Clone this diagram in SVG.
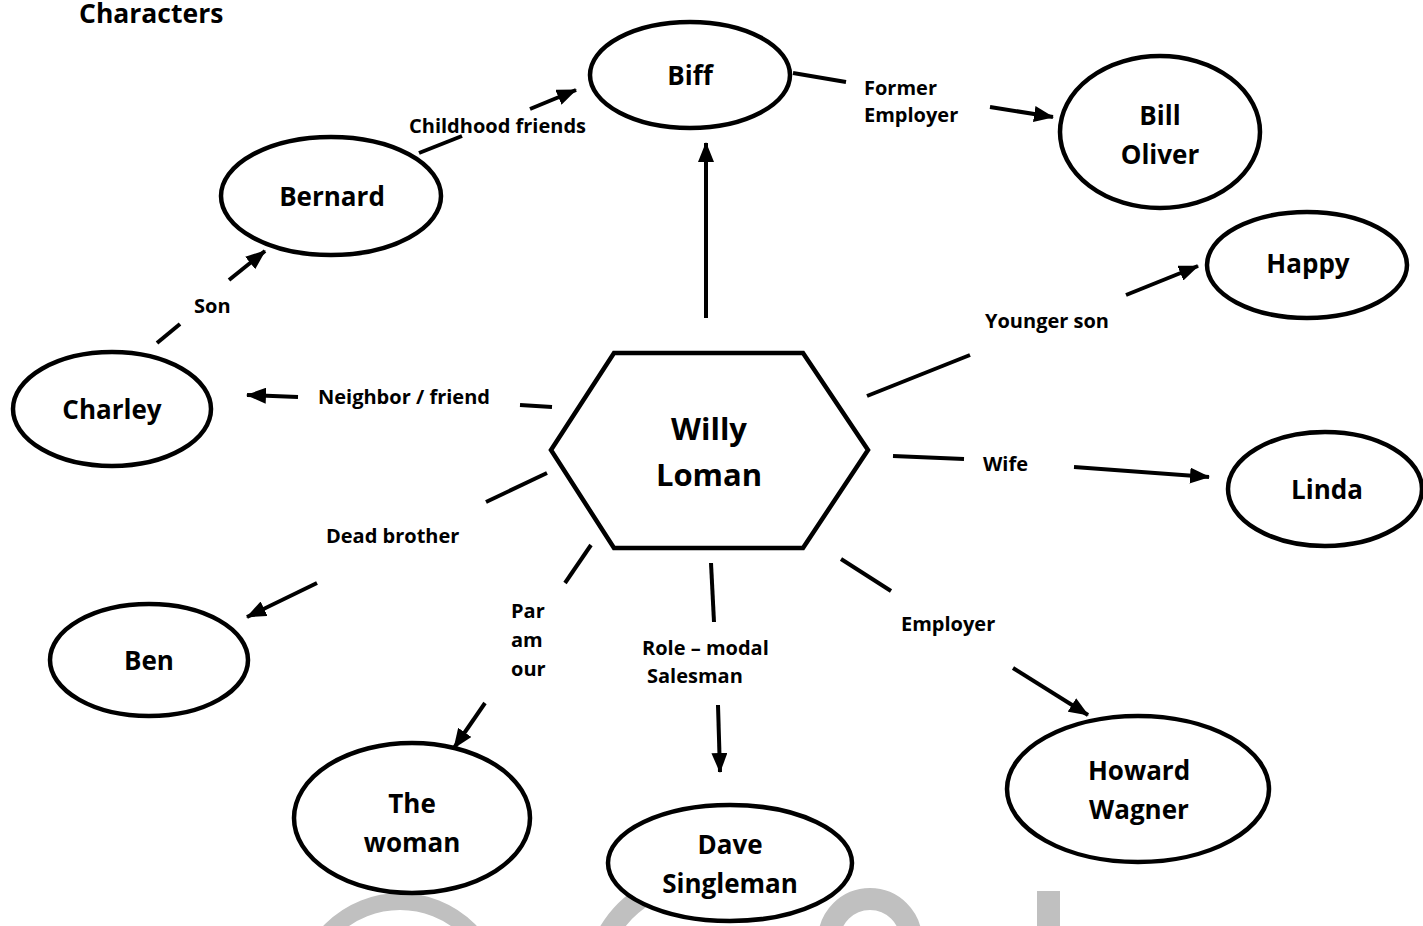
<svg xmlns="http://www.w3.org/2000/svg" width="1423" height="926" viewBox="0 0 1423 926">
<style>
text{font-family:"Open Sans","Noto Sans",sans-serif;font-weight:bold;fill:#000}
.n{font-size:26px;text-anchor:middle}
.w{font-size:31px;text-anchor:middle}
.e{font-size:20px}
.t{font-size:26.5px}
.node{fill:#fff;stroke:#000;stroke-width:4.5}
.c{stroke:#000;stroke-width:4;fill:none}
.a{marker-end:url(#arr)}
.wm{fill:none;stroke:#c0c0c0}
</style>
<defs>
<marker id="arr" markerUnits="userSpaceOnUse" markerWidth="20" markerHeight="16" viewBox="0 0 20 16" refX="19" refY="8" orient="auto">
<path d="M0,0 L20,8 L0,16 z" fill="#000"/>
</marker>
</defs>
<rect width="1423" height="926" fill="#fff"/>
<g id="watermark">
<circle class="wm" cx="400" cy="999" r="97.5" stroke-width="17"/>
<path class="wm" d="M609,932 A105,105 0 0 1 647.5,894" stroke-width="21"/>
<circle class="wm" cx="870" cy="940" r="41" stroke-width="22"/>
<rect x="1037" y="891" width="23" height="40" fill="#c0c0c0"/>
</g>
<text class="t" x="79" y="23">Characters</text>
<g id="connectors">
<line class="c a" x1="706" y1="318" x2="706" y2="143"/>
<line class="c" x1="419" y1="153" x2="462" y2="136"/>
<line class="c a" x1="530" y1="109" x2="576" y2="90"/>
<text class="e" x="409" y="133">Childhood friends</text>
<line class="c" x1="793" y1="73" x2="846" y2="82"/>
<line class="c a" x1="990" y1="107" x2="1053" y2="117"/>
<text class="e" x="864" y="95">Former</text>
<text class="e" x="864" y="122">Employer</text>
<line class="c" x1="157" y1="343" x2="180" y2="324"/>
<line class="c a" x1="229" y1="280" x2="265" y2="251"/>
<text class="e" x="194" y="313">Son</text>
<line class="c" x1="520" y1="405" x2="552" y2="407"/>
<line class="c a" x1="298" y1="397" x2="247" y2="395"/>
<text class="e" x="318" y="404">Neighbor / friend</text>
<line class="c" x1="867" y1="396" x2="970" y2="355"/>
<line class="c a" x1="1126" y1="295" x2="1198" y2="266"/>
<text class="e" x="985" y="328">Younger son</text>
<line class="c" x1="893" y1="456" x2="964" y2="459"/>
<line class="c a" x1="1074" y1="467" x2="1209" y2="477"/>
<text class="e" x="983" y="471">Wife</text>
<line class="c" x1="486" y1="502" x2="547" y2="473"/>
<line class="c a" x1="317" y1="583" x2="247" y2="617"/>
<text class="e" x="326" y="543">Dead brother</text>
<line class="c" x1="565" y1="583" x2="591" y2="545"/>
<line class="c a" x1="485" y1="703" x2="454" y2="748"/>
<text class="e" x="511" y="618">Par</text>
<text class="e" x="511" y="647">am</text>
<text class="e" x="511" y="676">our</text>
<line class="c" x1="711" y1="563" x2="714" y2="622"/>
<line class="c a" x1="718" y1="705" x2="720" y2="772"/>
<text class="e" x="642" y="655">Role – modal</text>
<text class="e" x="647" y="683">Salesman</text>
<line class="c" x1="841" y1="559" x2="891" y2="591"/>
<line class="c a" x1="1013" y1="668" x2="1088" y2="715"/>
<text class="e" x="901" y="631">Employer</text>
</g>
<g id="willy">
<polygon class="node" stroke-width="5" points="614,353 803,353 868,450 803,548 614,548 551,450"/>
<text class="w" x="709" y="440">Willy</text>
<text class="w" x="709" y="486">Loman</text>
</g>
<g id="biff"><ellipse class="node" cx="690" cy="75" rx="100" ry="53"/><text class="n" x="690" y="85">Biff</text></g>
<g id="bill-oliver"><ellipse class="node" cx="1160" cy="132" rx="100" ry="76"/><text class="n" x="1160" y="125">Bill</text><text class="n" x="1160" y="164">Oliver</text></g>
<g id="bernard"><ellipse class="node" cx="331" cy="196" rx="110" ry="59"/><text class="n" x="332" y="206">Bernard</text></g>
<g id="happy"><ellipse class="node" cx="1307" cy="265" rx="100" ry="53"/><text class="n" x="1308" y="273">Happy</text></g>
<g id="charley"><ellipse class="node" cx="112" cy="409" rx="99" ry="57"/><text class="n" x="112" y="419">Charley</text></g>
<g id="linda"><ellipse class="node" cx="1325" cy="489" rx="97" ry="57"/><text class="n" x="1327" y="499">Linda</text></g>
<g id="ben"><ellipse class="node" cx="149" cy="660" rx="99" ry="56"/><text class="n" x="149" y="670">Ben</text></g>
<g id="the-woman"><ellipse class="node" cx="412" cy="818" rx="118" ry="75"/><text class="n" x="412" y="813">The</text><text class="n" x="412" y="852">woman</text></g>
<g id="dave-singleman"><ellipse class="node" cx="730" cy="863" rx="122" ry="58"/><text class="n" x="730" y="854">Dave</text><text class="n" x="730" y="893">Singleman</text></g>
<g id="howard-wagner"><ellipse class="node" cx="1138" cy="789" rx="131" ry="73"/><text class="n" x="1139" y="780">Howard</text><text class="n" x="1139" y="819">Wagner</text></g>
</svg>
